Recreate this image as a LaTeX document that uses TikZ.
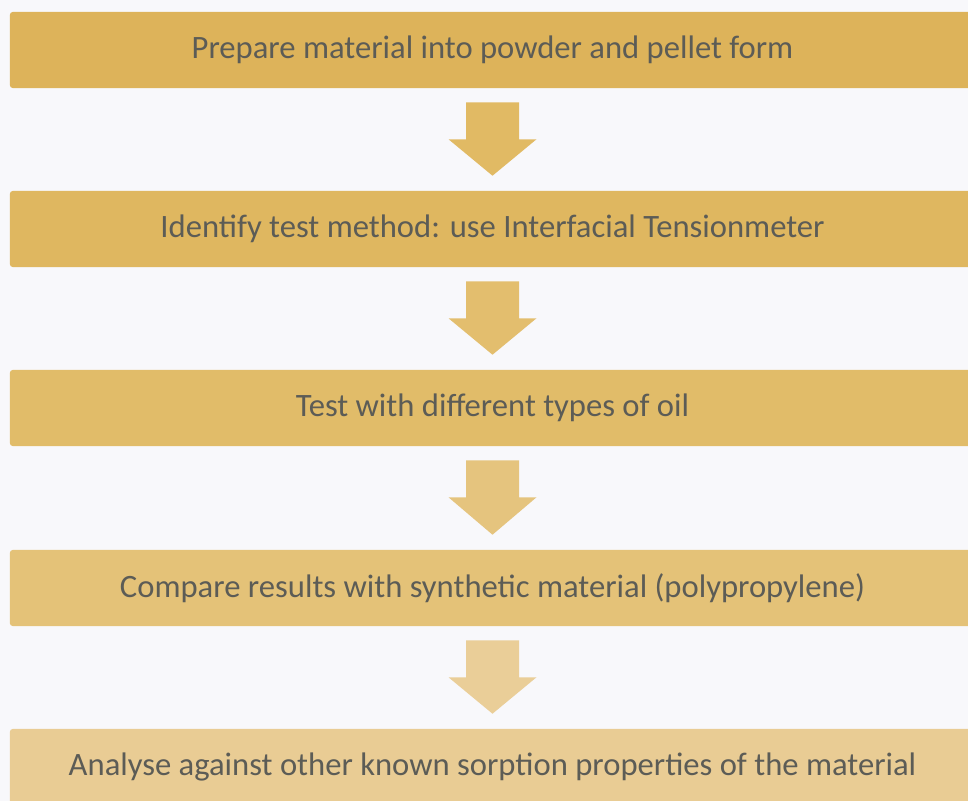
\documentclass[tikz,border=0pt]{standalone}
\usepackage{fontspec}
\setmainfont{Carlito}
\usepackage{tikz}
\usetikzlibrary{shapes,arrows,calc}
\usepackage{xcolor}

\definecolor{stepA}{RGB}{221,179,90}
\definecolor{stepB}{RGB}{223,183,96}
\definecolor{stepC}{RGB}{225,188,105}
\definecolor{stepD}{RGB}{228,194,120}
\definecolor{stepE}{RGB}{233,204,148}
\definecolor{arrA}{RGB}{225,186,100}
\definecolor{arrB}{RGB}{227,190,110}
\definecolor{arrC}{RGB}{229,196,126}
\definecolor{arrD}{RGB}{234,206,152}
\definecolor{textgray}{RGB}{92,92,86}
\definecolor{paper}{RGB}{248,248,251}

\tikzset{
  stepbox/.style={rectangle, rounded corners=2pt, minimum width=24.125cm,
    minimum height=1.9cm, inner sep=0pt, text=textgray,
    font=\fontsize{23.2}{27}\selectfont},
}

% block arrow from the bottom of one box to the top of the next
\newcommand{\steparrow}[3]{%
  \fill [#3] ($(#1.south)+(-26.5,14)$) -- ($(#1.south)+(26.5,14)$)
    -- ($(#1.south)+(26.5,51)$) -- ($(#1.south)+(44,51)$)
    -- ($(#2.north)+(0,-15)$) -- ($(#1.south)+(-44,51)$)
    -- ($(#1.south)+(-26.5,51)$) -- cycle;}

\begin{document}
\begin{tikzpicture}[x=0.025cm,y=-0.025cm]
     \fill [paper] (0,0) rectangle (968,801);
     \clip (0,0) rectangle (968,801);
     \node [stepbox, fill=stepA] (prep) at (492.5,50) {Prepare material into powder and pellet form};
     \node [stepbox, fill=stepB] (ident) at (492.5,229) {Identify test method: use Interfacial Tensionmeter};
     \node [stepbox, fill=stepC] (oil) at (492.5,408) {Test with different types of oil};
     \node [stepbox, fill=stepD] (comp) at (492.5,588) {Compare results with synthetic material (polypropylene)};
     \node [stepbox, fill=stepE] (anal) at (492.5,767) {Analyse against other known sorption properties of the material};
     \steparrow{prep}{ident}{arrA}
     \steparrow{ident}{oil}{arrB}
     \steparrow{oil}{comp}{arrC}
     \steparrow{comp}{anal}{arrD}
 \end{tikzpicture}
\end{document}
